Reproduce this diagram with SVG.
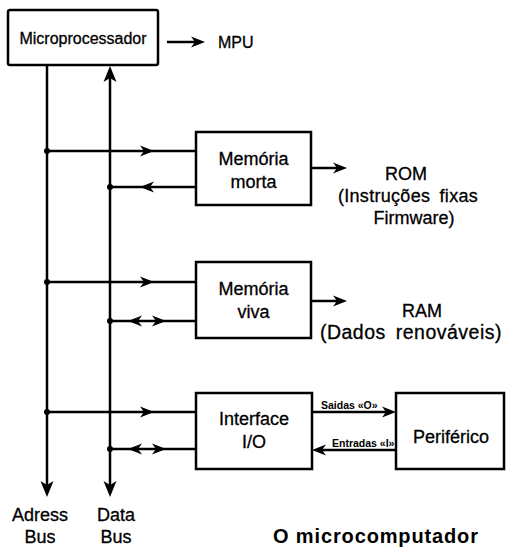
<svg xmlns="http://www.w3.org/2000/svg" xmlns:xlink="http://www.w3.org/1999/xlink" width="506" height="548" viewBox="0 0 506 548">
  <style>
    .box { fill: #fff; stroke: #000; stroke-width: 2.5; }
    .wire { fill: none; stroke: #000; stroke-width: 2.5; }
    .lbl { font-family: "Liberation Sans", Arial, sans-serif; font-size: 18px; fill: #000; stroke: #000; stroke-width: 0.3; text-anchor: middle; }
    .sm { font-family: "Liberation Sans", Arial, sans-serif; font-size: 10.5px; font-weight: bold; fill: #000; }
    .dot { fill: #000; }
    .head { fill: #000; }
  </style>
  <defs>
    <!-- arrowhead pointing right, tip at the origin -->
    <path id="ah" d="M0,0 L-14,-5.5 L-10,0 L-14,5.5 Z"/>
    <!-- larger head for the bus ends -->
    <path id="bh" d="M0,0 L-16,-6.5 L-12,0 L-16,6.5 Z"/>
  </defs>

  <rect width="506" height="548" fill="#fff"/>

  <g id="connectors">
    <!-- address bus -->
    <line class="wire" x1="47" y1="65" x2="47" y2="490"/>
    <use xlink:href="#bh" class="head" transform="translate(47,497) rotate(90)"/>
    <!-- data bus -->
    <line class="wire" x1="110" y1="72" x2="110" y2="490"/>
    <use xlink:href="#bh" class="head" transform="translate(110,66) rotate(-90)"/>
    <use xlink:href="#bh" class="head" transform="translate(110,497) rotate(90)"/>

    <!-- MPU -->
    <line class="wire" x1="167" y1="42" x2="198" y2="42"/>
    <use xlink:href="#ah" class="head" transform="translate(205,42)"/>

    <!-- ROM rows -->
    <line class="wire" x1="47" y1="151" x2="196" y2="151"/>
    <use xlink:href="#ah" class="head" transform="translate(154,151)"/>
    <line class="wire" x1="110" y1="187" x2="196" y2="187"/>
    <use xlink:href="#ah" class="head" transform="translate(140,187) rotate(180)"/>
    <circle class="dot" cx="47" cy="151" r="3"/>
    <circle class="dot" cx="110" cy="187" r="3"/>
    <line class="wire" x1="311" y1="168" x2="340" y2="168"/>
    <use xlink:href="#ah" class="head" transform="translate(347,168)"/>

    <!-- RAM rows -->
    <line class="wire" x1="47" y1="282" x2="196" y2="282"/>
    <use xlink:href="#ah" class="head" transform="translate(154,282)"/>
    <line class="wire" x1="110" y1="321" x2="196" y2="321"/>
    <use xlink:href="#ah" class="head" transform="translate(128,321) rotate(180)"/>
    <use xlink:href="#ah" class="head" transform="translate(166,321)"/>
    <circle class="dot" cx="47" cy="282" r="3"/>
    <circle class="dot" cx="110" cy="321" r="3"/>
    <line class="wire" x1="311" y1="301" x2="340" y2="301"/>
    <use xlink:href="#ah" class="head" transform="translate(347,301)"/>

    <!-- I/O rows -->
    <line class="wire" x1="47" y1="412" x2="196" y2="412"/>
    <use xlink:href="#ah" class="head" transform="translate(154,412)"/>
    <line class="wire" x1="110" y1="449" x2="196" y2="449"/>
    <use xlink:href="#ah" class="head" transform="translate(128,449) rotate(180)"/>
    <use xlink:href="#ah" class="head" transform="translate(166,449)"/>
    <circle class="dot" cx="47" cy="412" r="3"/>
    <circle class="dot" cx="110" cy="449" r="3"/>

    <!-- interface to peripheral -->
    <line class="wire" x1="312" y1="412" x2="388" y2="412"/>
    <use xlink:href="#ah" class="head" transform="translate(396,412)"/>
    <line class="wire" x1="320" y1="450" x2="396" y2="450"/>
    <use xlink:href="#ah" class="head" transform="translate(312,450) rotate(180)"/>
    <text class="sm" x="321" y="409">Saidas «O»</text>
    <text class="sm" x="332" y="447">Entradas «I»</text>
  </g>

  <g id="mpu">
    <rect class="box" x="8" y="10" width="150" height="55" rx="2"/>
    <text class="lbl" x="83" y="44" style="font-size:16px">Microprocessador</text>
  </g>
  <text class="lbl" x="218" y="48" style="font-size:16px;text-anchor:start">MPU</text>

  <g id="rom">
    <rect class="box" x="196" y="132" width="115" height="73"/>
    <text class="lbl" x="253.5" y="165">Memória</text>
    <text class="lbl" x="253.5" y="188">morta</text>
  </g>
  <g id="rom-label">
    <text class="lbl" x="406" y="180">ROM</text>
    <text class="lbl" x="408" y="202" style="word-spacing:4px;letter-spacing:0.3px">(Instruções fixas</text>
    <text class="lbl" x="414" y="224">Firmware)</text>
  </g>

  <g id="ram">
    <rect class="box" x="196" y="262" width="115" height="76"/>
    <text class="lbl" x="253.5" y="295">Memória</text>
    <text class="lbl" x="253.5" y="318">viva</text>
  </g>
  <g id="ram-label">
    <text class="lbl" x="422" y="317">RAM</text>
    <text class="lbl" x="411" y="339" style="font-size:19.5px;word-spacing:4px;letter-spacing:0.5px">(Dados renováveis)</text>
  </g>

  <g id="interface">
    <rect class="box" x="196" y="393" width="116" height="76"/>
    <text class="lbl" x="254" y="425">Interface</text>
    <text class="lbl" x="254" y="448">I/O</text>
  </g>

  <g id="periferico">
    <rect class="box" x="396" y="393" width="108" height="76"/>
    <text class="lbl" x="451" y="443">Periférico</text>
  </g>

  <g id="bus-labels">
    <text class="lbl" x="40" y="521">Adress</text>
    <text class="lbl" x="40" y="543">Bus</text>
    <text class="lbl" x="116" y="521">Data</text>
    <text class="lbl" x="116" y="543">Bus</text>
  </g>

  <text class="lbl" x="273" y="543" style="text-anchor:start;font-weight:bold;font-size:20px;stroke-width:0" textLength="205" lengthAdjust="spacing">O microcomputador</text>
</svg>
